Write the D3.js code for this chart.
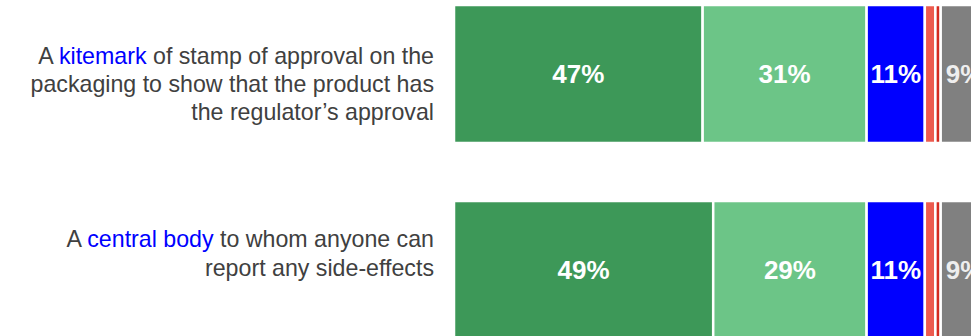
<!DOCTYPE html>
<html>
<head>
<meta charset="utf-8">
<script src="https://cdn.jsdelivr.net/npm/d3@7"></script>
<style>
  html, body { margin: 0; padding: 0; background: #fff; overflow: hidden; }
  svg { display: block; }
  text { font-family: "Liberation Sans", Arial, Helvetica, sans-serif; }
</style>
</head>
<body>
<svg id="chart" width="971" height="336"></svg>
<script>
// Survey items (each label is split into lines; highlighted words in blue)
const categories = ["kitemark", "centralBody"];
const labelLines = [
  [[["A ", false], ["kitemark", true], [" of stamp of approval on the", false]],
   [["packaging to show that the product has", false]],
   [["the regulator\u2019s approval", false]]],
  [[["A ", false], ["central body", true], [" to whom anyone can", false]],
   [["report any side-effects", false]]]
];

// Response shares (%) per segment, left to right
const seriesNames = ["Very important", "Fairly important", "Neutral", "Not very important", "Not at all important", "Don't know"];
const seriesColors = ["#3d9858", "#6cc587", "#0000ff", "#ec5b4f", "#d42b20", "#808080"];
const values = [
  [47, 31, 11, 2, 1, 9],
  [49, 29, 11, 2, 1, 9]
];

const svg = d3.select("#chart");

const x = d3.scaleLinear().domain([0, 100]).range([454, 983]);
const y = d3.scaleBand().domain(categories).range([5, 339]).paddingInner(0.296).paddingOuter(0);

// Stack the segments for each row
const rows = categories.map((c, i) => {
  let acc = 0;
  return values[i].map((v, j) => {
    const seg = { cat: c, series: j, value: v, x0: acc, x1: acc + v };
    acc += v;
    return seg;
  });
});

const rowG = svg.selectAll("g.row").data(rows).join("g").attr("class", "row");

rowG.selectAll("rect")
  .data(d => d)
  .join("rect")
  .attr("x", d => x(d.x0))
  .attr("y", d => y(d.cat))
  .attr("width", d => x(d.x1) - x(d.x0))
  .attr("height", y.bandwidth())
  .attr("fill", d => seriesColors[d.series])
  .attr("stroke", "#fff")
  .attr("stroke-width", 2.5);

rowG.selectAll("text.val")
  .data(d => d.filter(s => s.value >= 5))
  .join("text")
  .attr("class", "val")
  .attr("x", d => (x(d.x0) + x(d.x1)) / 2)
  .attr("y", d => y(d.cat) + y.bandwidth() / 2)
  .attr("dy", "0.36em")
  .attr("text-anchor", "middle")
  .attr("font-weight", "bold")
  .attr("font-size", 26)
  .attr("fill", d => d.series === 5 ? "#eeeeee" : "#ffffff")
  .text(d => d.value + "%");

// Category labels, right-aligned to the left of the bars
const lineHeight = 28.3;
const labelShift = [10.5, -16];
const labelG = svg.selectAll("text.cat").data(categories).join("text")
  .attr("class", "cat")
  .attr("text-anchor", "end")
  .attr("font-size", 23.2)
  .attr("fill", "#404040");

labelG.each(function(c, i) {
  const lines = labelLines[i];
  const n = lines.length;
  const mid = y(c) + y.bandwidth() / 2 + labelShift[i];
  const t = d3.select(this);
  lines.forEach((parts, li) => {
    const baseY = mid + (li - (n - 1) / 2) * lineHeight + 7.5;
    parts.forEach((p, pi) => {
      const ts = t.append("tspan").text(p[0]).attr("fill", p[1] ? "#0000ff" : "#404040");
      if (pi === 0) ts.attr("x", 434).attr("y", baseY);
    });
  });
});
</script>
</body>
</html>
